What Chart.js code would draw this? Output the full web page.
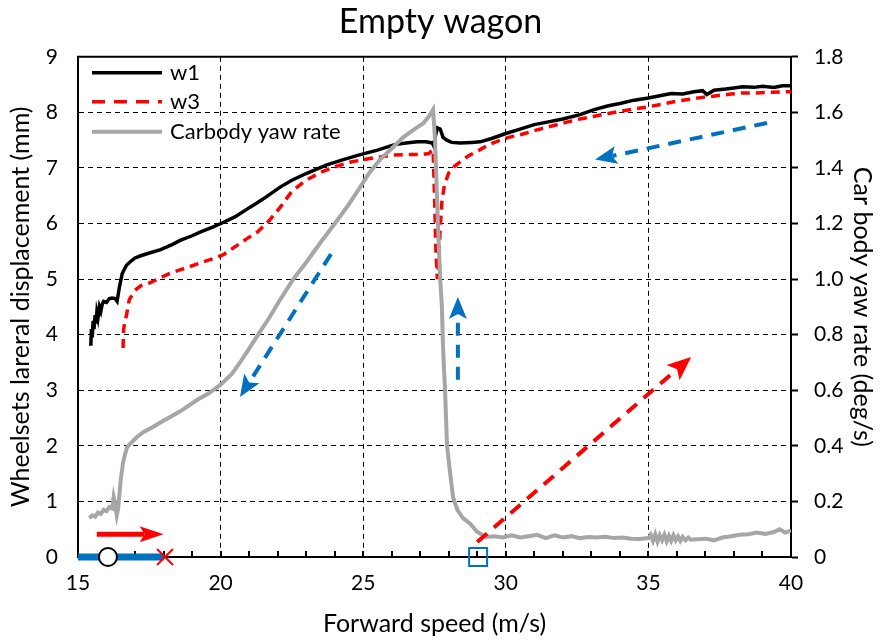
<!DOCTYPE html>
<html><head><meta charset="utf-8">
<script src="https://cdn.jsdelivr.net/npm/chart.js@4/dist/chart.umd.min.js"></script>
<style>html,body{margin:0;padding:0;background:#fff}</style>
</head><body>
<canvas id="c" width="881" height="642"></canvas>
<script>
// ---------- data ----------
const w1X = [15.45,15.47,15.5,15.53,15.56,15.6,15.63,15.66,15.7,15.75,15.8,15.85,15.9,16.0,16.1,16.2,16.3,16.37,16.45,16.55,16.7,16.85,17.0,17.2,17.5,17.9,18.3,18.6,19.0,19.3,19.7,20.05,20.5,20.9,21.3,21.6,22.1,22.5,23.0,23.7,24.3,24.9,25.5,26.1,26.5,26.9,27.2,27.42,27.47,27.52,27.6,27.7,27.8,27.93,28.1,28.4,28.8,29.1,29.5,30.0,30.5,31.0,31.4,32.0,32.6,33.1,33.6,34.0,34.5,35.0,35.4,35.8,36.2,36.6,36.9,37.05,37.3,37.7,38.0,38.3,38.7,39.0,39.4,39.7,40.0];
const w1Y = [3.8,4.1,3.95,4.25,4.1,4.35,4.2,4.4,4.3,4.5,4.42,4.55,4.6,4.58,4.65,4.66,4.65,4.6,4.85,5.1,5.25,5.32,5.38,5.42,5.47,5.53,5.62,5.7,5.78,5.85,5.93,6.01,6.12,6.25,6.38,6.48,6.66,6.78,6.9,7.05,7.15,7.24,7.32,7.42,7.45,7.47,7.47,7.45,7.4,7.55,7.72,7.7,7.55,7.5,7.46,7.45,7.46,7.47,7.53,7.62,7.7,7.78,7.82,7.88,7.96,8.05,8.12,8.16,8.22,8.26,8.3,8.34,8.33,8.37,8.39,8.32,8.4,8.42,8.44,8.46,8.45,8.47,8.45,8.48,8.48];

const w3X = [16.58,16.6,16.65,16.7,16.75,16.8,16.9,17.0,17.2,17.5,17.8,18.2,18.6,19.0,19.4,19.8,20.1,20.5,20.9,21.3,21.7,22.1,22.5,23.0,23.5,24.0,24.5,25.0,25.5,26.0,26.5,27.0,27.3,27.45,27.5,27.55,27.6,27.65,27.7,27.76,27.85,28.0,28.2,28.4,28.7,29.1,29.4,29.7,30.1,30.6,31.0,31.5,32.1,32.6,33.1,33.6,34.0,34.5,35.0,35.5,36.0,36.5,36.9,37.4,37.9,38.3,38.8,39.3,39.7,40.0];
const w3Y = [3.76,4.1,4.25,4.35,4.5,4.63,4.72,4.8,4.88,4.93,5.0,5.1,5.17,5.24,5.31,5.38,5.44,5.58,5.72,5.85,6.05,6.3,6.58,6.78,6.92,7.02,7.1,7.15,7.19,7.23,7.24,7.24,7.26,7.33,6.5,5.5,5.0,5.4,5.9,6.4,6.7,6.91,7.03,7.11,7.22,7.33,7.42,7.48,7.55,7.61,7.67,7.74,7.82,7.88,7.93,7.98,8.02,8.06,8.1,8.15,8.2,8.24,8.27,8.3,8.33,8.35,8.35,8.36,8.37,8.37];

const yawX = [15.4,15.5,15.6,15.7,15.8,15.9,16.0,16.1,16.2,16.25,16.3,16.36,16.4,16.45,16.5,16.58,16.65,16.72,16.85,17.07,17.3,17.63,17.9,18.23,18.6,19.17,19.6,20.0,20.4,20.68,21.0,21.38,21.7,22.08,22.55,23.0,23.49,24.08,24.5,24.89,25.2,25.59,26.0,26.4,26.8,27.1,27.3,27.45,27.52,27.62,27.7,27.76,27.8,27.87,27.94,28.05,28.15,28.3,28.5,28.75,29.0,29.3,29.6,29.9,30.2,30.5,30.8,31.1,31.4,31.7,32.0,32.3,32.6,32.9,33.2,33.5,33.8,34.1,34.4,34.7,35.0,35.08,35.16,35.24,35.32,35.4,35.48,35.56,35.64,35.72,35.8,35.88,35.96,36.04,36.12,36.2,36.3,36.4,36.5,36.7,37.0,37.3,37.6,37.9,38.2,38.5,38.8,39.1,39.4,39.6,39.8,40.0];
const yawY = [0.14,0.15,0.145,0.16,0.155,0.17,0.165,0.18,0.175,0.215,0.19,0.15,0.17,0.22,0.28,0.34,0.37,0.395,0.41,0.432,0.45,0.468,0.485,0.504,0.525,0.565,0.59,0.62,0.66,0.7,0.75,0.81,0.86,0.925,1.0,1.06,1.13,1.21,1.27,1.33,1.38,1.43,1.47,1.51,1.54,1.56,1.585,1.61,1.5,1.2,1.0,0.9,0.75,0.6,0.4,0.3,0.216,0.17,0.14,0.12,0.09,0.072,0.075,0.07,0.078,0.07,0.075,0.08,0.068,0.078,0.07,0.075,0.068,0.072,0.07,0.073,0.068,0.07,0.066,0.065,0.068,0.08,0.058,0.082,0.055,0.078,0.06,0.08,0.056,0.076,0.058,0.078,0.06,0.074,0.058,0.072,0.06,0.07,0.062,0.064,0.066,0.06,0.07,0.075,0.08,0.082,0.088,0.083,0.09,0.1,0.088,0.095];

const xTickValues = [15,20,25,30,35,40];
const xMinorTicks = [16,17,18,19,21,22,23,24,26,27,28,29,31,32,33,34,36,37,38,39];

// annotation arrows / markers in data units: [x1, y1, x2, y2] on left (mm) axis
const blueArrows = [[23.87,5.45,20.68,2.88],[28.32,3.19,28.32,4.68],[39.16,7.81,33.13,7.15]];
const redDashedArrow = [29.0,0.27,36.5,3.6];
const redSolidArrow = [15.66,0.41,18.0,0.41];
const blueBar = [15,0,18,0];
const circleMark = [16.05,0];
const crossMark = [18.05,0];
const squareMark = [29.03,0];

const FONT = 'Lato';
const pts = (xs, ys) => xs.map((x,i)=>({x, y: ys[i]}));

function arrowHead(ctx, x1, y1, x2, y2, len, half, color){
  const ang = Math.atan2(y2-y1, x2-x1);
  ctx.save();
  ctx.translate(x2, y2); ctx.rotate(ang);
  ctx.setLineDash([]);
  ctx.fillStyle = color;
  ctx.beginPath();
  ctx.moveTo(0,0);
  ctx.lineTo(-len, -half);
  ctx.lineTo(-len*0.78, 0);
  ctx.lineTo(-len, half);
  ctx.closePath();
  ctx.fill();
  ctx.restore();
}
function drawArrow(ctx, sx, sy, a, color, width, dash, len, half){
  const x1 = sx.getPixelForValue(a[0]), y1 = sy.getPixelForValue(a[1]);
  const x2 = sx.getPixelForValue(a[2]), y2 = sy.getPixelForValue(a[3]);
  const ang = Math.atan2(y2-y1, x2-x1);
  const ex = x2 - Math.cos(ang)*len*0.8, ey = y2 - Math.sin(ang)*len*0.8;
  ctx.save();
  ctx.strokeStyle = color; ctx.lineWidth = width; ctx.setLineDash(dash); ctx.lineCap='butt';
  ctx.beginPath(); ctx.moveTo(x1,y1); ctx.lineTo(ex,ey); ctx.stroke();
  ctx.restore();
  arrowHead(ctx, x1, y1, x2, y2, len, half, color);
}

const overlay = {
  id: 'overlay',
  afterDraw(chart){
    const {ctx, chartArea: a} = chart;
    const sx = chart.scales.x, sy = chart.scales.y;
    ctx.save();
    // top frame line
    ctx.strokeStyle = '#000'; ctx.lineWidth = 2;
    ctx.beginPath(); ctx.moveTo(a.left-1, a.top); ctx.lineTo(a.right+1, a.top); ctx.stroke();
    // inward x ticks (every 1 m/s)
    ctx.lineWidth = 2;
    for (const v of xMinorTicks.concat(xTickValues)) {
      const px = Math.round(sx.getPixelForValue(v));
      ctx.beginPath(); ctx.moveTo(px, a.bottom); ctx.lineTo(px, a.bottom-6); ctx.stroke();
    }
    // arrows
    const blue = '#0070c0', red = '#ff0000';
    for (const b of blueArrows) drawArrow(ctx, sx, sy, b, blue, 4, [13,9], 22, 9);
    drawArrow(ctx, sx, sy, redDashedArrow, red, 4, [13,9], 24, 10);
    drawArrow(ctx, sx, sy, redSolidArrow, red, 5, [], 24, 8);
    // blue bar on axis
    ctx.strokeStyle = blue; ctx.lineWidth = 7; ctx.setLineDash([]);
    ctx.beginPath();
    ctx.moveTo(sx.getPixelForValue(blueBar[0]), sy.getPixelForValue(blueBar[1]));
    ctx.lineTo(sx.getPixelForValue(blueBar[2]), sy.getPixelForValue(blueBar[3]));
    ctx.stroke();
    // circle
    const cx = sx.getPixelForValue(circleMark[0]), cy = sy.getPixelForValue(circleMark[1]);
    ctx.fillStyle = '#fff'; ctx.strokeStyle = '#000'; ctx.lineWidth = 2;
    ctx.beginPath(); ctx.arc(cx, cy, 9, 0, Math.PI*2); ctx.fill(); ctx.stroke();
    // cross
    const kx = sx.getPixelForValue(crossMark[0]), ky = sy.getPixelForValue(crossMark[1]);
    ctx.strokeStyle = red; ctx.lineWidth = 2;
    ctx.beginPath(); ctx.moveTo(kx-8,ky-8); ctx.lineTo(kx+8,ky+8); ctx.moveTo(kx+8,ky-8); ctx.lineTo(kx-8,ky+8); ctx.stroke();
    // square
    const qx = sx.getPixelForValue(squareMark[0]), qy = sy.getPixelForValue(squareMark[1]);
    ctx.strokeStyle = blue; ctx.lineWidth = 2;
    ctx.strokeRect(qx-9, qy-9, 18, 18);
    // legend
    const items = chart.data.datasets;
    const rows = [a.top+16, a.top+45, a.top+75];
    items.forEach((ds, i) => {
      const yy = rows[i];
      ctx.strokeStyle = ds.borderColor; ctx.lineWidth = ds.borderWidth;
      ctx.setLineDash(ds.label === 'w3' ? [13,9] : []);
      ctx.beginPath(); ctx.moveTo(a.left+14, yy); ctx.lineTo(a.left+84, yy); ctx.stroke();
      ctx.setLineDash([]);
      ctx.fillStyle = '#000'; ctx.font = `22px ${FONT}`; ctx.textBaseline = 'middle'; ctx.textAlign='left';
      ctx.fillText(ds.label, a.left+92, yy);
    });
    ctx.restore();
  }
};

const tickFont = {family: FONT, size: 21};
const titleFont = {family: FONT, size: 25};
const gridColor = (lo, hi) => (c) => (c.tick && c.tick.value > lo && c.tick.value < hi) ? '#000' : 'rgba(0,0,0,0)';

new Chart(document.getElementById('c'), {
  type: 'line',
  data: {
    datasets: [
      {label: 'w1', data: pts(w1X, w1Y), borderColor: '#000000', borderWidth: 3.5, pointRadius: 0, yAxisID: 'y', order: 1, tension: 0},
      {label: 'w3', data: pts(w3X, w3Y), borderColor: '#ff0000', borderWidth: 3.5, borderDash: [9,6], pointRadius: 0, yAxisID: 'y', order: 2, tension: 0},
      {label: 'Carbody yaw rate', data: pts(yawX, yawY), borderColor: '#a6a6a6', borderWidth: 4, pointRadius: 0, yAxisID: 'y2', order: 0, tension: 0}
    ]
  },
  options: {
    responsive: false, animation: false,
    layout: {padding: 0},
    plugins: {
      legend: {display: false}, tooltip: {enabled: false},
      title: {display: true, text: 'Empty wagon', color: '#000', font: {family: FONT, size: 34, weight: 'normal'}, padding: {top: 2, bottom: 14}}
    },
    scales: {
      x: {
        type: 'linear', min: 15, max: 40,
        ticks: {stepSize: 5, font: tickFont, color: '#000', padding: 14, maxRotation: 0},
        grid: {color: gridColor(15,40), lineWidth: 1, drawTicks: false},
        border: {display: true, color: '#000', width: 2, dash: [5,4]},
        title: {display: true, text: 'Forward speed (m/s)', font: titleFont, color: '#000', padding: {top: 4, bottom: 3}},
        afterFit(s){ s.height = 85; }
      },
      y: {
        type: 'linear', position: 'left', min: 0, max: 9,
        ticks: {stepSize: 1, font: tickFont, color: '#000', padding: 20},
        grid: {color: gridColor(0,9), lineWidth: 1, drawTicks: false},
        border: {display: true, color: '#000', width: 2, dash: [5,4]},
        title: {display: true, text: 'Wheelsets lareral displacement (mm)', font: titleFont, color: '#000', padding: {top: 6, bottom: 4}},
        afterFit(s){ s.width = 78; }
      },
      y2: {
        type: 'linear', position: 'right', min: 0, max: 1.8,
        ticks: {stepSize: 0.2, font: tickFont, color: '#000', padding: 16},
        grid: {drawOnChartArea: false, drawTicks: true, tickLength: 7, tickColor: '#000', tickWidth: 2},
        border: {display: true, color: '#000', width: 2},
        title: {display: true, text: 'Car body yaw rate (deg/s)', font: titleFont, color: '#000', padding: {top: 4, bottom: 3}},
        afterFit(s){ s.width = 90; }
      }
    }
  },
  plugins: [overlay]
});
</script>
</body></html>
